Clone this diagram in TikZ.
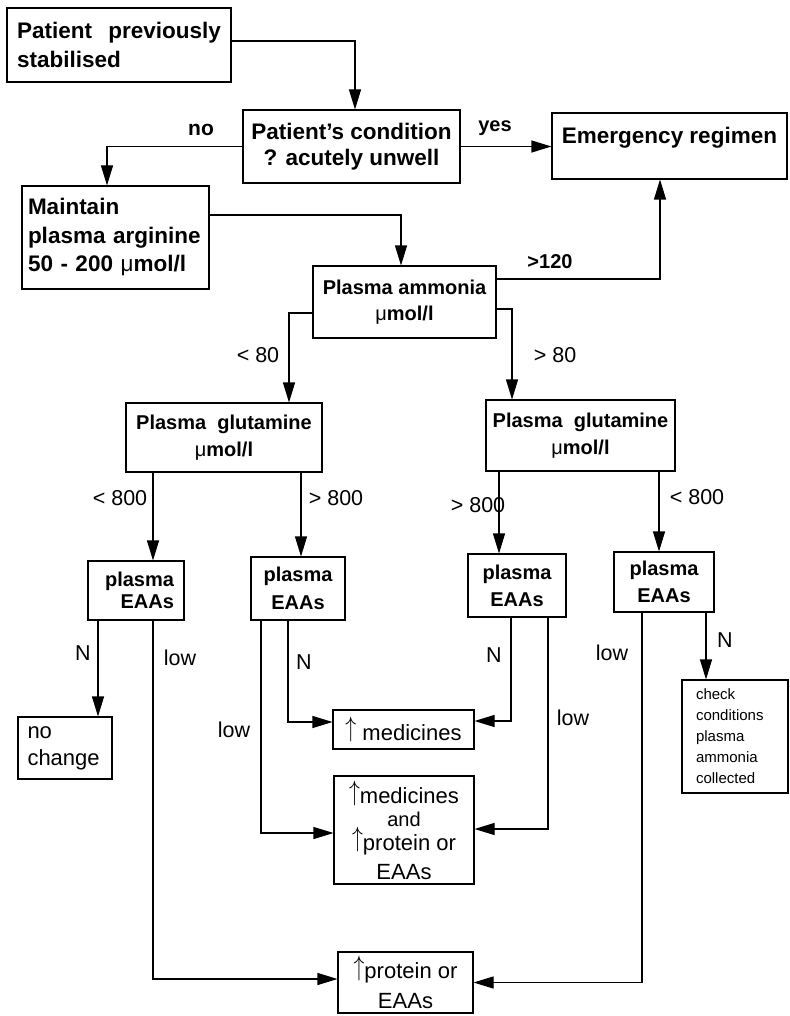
\documentclass[tikz,border=0pt]{standalone}
\usepackage{fontspec}
\usepackage{graphicx}
\setmainfont{Liberation Sans}
\usetikzlibrary{arrows.meta}
\newcommand{\mumol}{{\mdseries μ}mol/l}
\newcommand{\uparr}{\raisebox{0.16em}{\scalebox{1.05}[1.35]{$\uparrow$}}}
\begin{document}
\begin{tikzpicture}[x=1pt,y=-1pt,
  box/.style={draw, line width=1.1pt, inner sep=0pt, align=center},
  bigbf/.style={font=\fontsize{22.5}{29}\selectfont\bfseries},
  midbf/.style={font=\fontsize{20}{27}\selectfont\bfseries},
  rg/.style={font=\fontsize{22}{28}\selectfont},
  lab/.style={font=\fontsize{21.5}{25}\selectfont, inner sep=0pt},
  labbf/.style={font=\fontsize{20}{25}\selectfont\bfseries, inner sep=0pt},
  conn/.style={line width=1.1pt, -{Triangle[length=20pt,width=12pt]}}]
\useasboundingbox (0,0) rectangle (789,1016);
\fill[white] (0,0) rectangle (789,1016);

% boxes
\node[box, bigbf, minimum width=224pt, minimum height=74pt, text width=204pt, align=left] (b1) at (119,45) {Patient\hfill previously\\stabilised};
\node[box, bigbf, minimum width=217pt, minimum height=73pt, font=\fontsize{22.5}{26}\selectfont\bfseries] (b2) at (351.5,146.5) {Patient’s condition\\? acutely unwell};
\node[box, bigbf, minimum width=235pt, minimum height=66pt, text height=16pt, text depth=20pt] (em) at (669.5,146) {Emergency regimen};
\node[box, bigbf, minimum width=187pt, minimum height=103pt, text width=175pt, align=left, font=\fontsize{22.5}{28.5}\selectfont\bfseries] (maint) at (115.5,237.5) {Maintain\\plasma arginine\\50 - 200 \mumol};
\node[box, midbf, minimum width=183pt, minimum height=72pt, font=\fontsize{20}{26}\selectfont\bfseries] (amm) at (404.5,302) {Plasma ammonia\\\mumol};
\node[box, midbf, minimum width=196pt, minimum height=69pt] (gL) at (224,437.5) {Plasma\ \ glutamine\\\mumol};
\node[box, midbf, minimum width=189pt, minimum height=71pt] (gR) at (580.5,435.5) {Plasma\ \ glutamine\\\mumol};
\node[box, midbf, minimum width=96pt, minimum height=59pt, text width=76pt, align=right, font=\fontsize{20}{22}\selectfont\bfseries] (e1) at (136,590.5) {plasma\\EAAs};
\node[box, midbf, minimum width=94pt, minimum height=63pt, font=\fontsize{20}{28}\selectfont\bfseries] (e2) at (298,588.5) {plasma\\EAAs};
\node[box, midbf, minimum width=98pt, minimum height=63pt] (e3) at (517,585.5) {plasma\\EAAs};
\node[box, midbf, minimum width=100pt, minimum height=60pt] (e4) at (664,582) {plasma\\EAAs};
\node[box, rg, minimum width=94pt, minimum height=62pt, text width=75pt, align=left, font=\fontsize{22}{27}\selectfont] (nc) at (65,748) {no\\change};
\node[box, rg, minimum width=141pt, minimum height=39pt] (med) at (403.5,729.5) {\uparr\ medicines};
\node[box, rg, minimum width=140pt, minimum height=108pt, font=\fontsize{22}{22.5}\selectfont] (big) at (404,830) {\uparr medicines\\{\fontsize{20}{22.5}\selectfont and}\\\uparr protein or\\[6.5pt]EAAs};
\node[box, rg, minimum width=135pt, minimum height=61pt, font=\fontsize{22}{30}\selectfont] (prot) at (405.5,982.5) {\uparr protein or\\EAAs};
\node[box, minimum width=106pt, minimum height=113pt, text width=78pt, align=left, font=\fontsize{15}{21}\selectfont] (chk) at (735,736.5) {check\\conditions\\plasma\\ammonia\\collected};

% connectors
\draw[conn] ([yshift=4pt]b1.east) -| ([xshift=3.5pt]b2.north);
\draw[conn] (b2.east) -- (b2.east -| em.west);
\draw[conn] (b2.west) -| ([xshift=-8.5pt]maint.north);
\draw[conn] ([yshift=22.5pt]maint.east) -| ([xshift=-3.5pt]amm.north);
\draw[conn] ([yshift=23pt]amm.east) -| ([xshift=-9.5pt]em.south);
\draw[conn] ([yshift=-11pt]amm.west) -| ([xshift=65pt]gL.north);
\draw[conn] ([yshift=-7pt]amm.east) -| ([xshift=-68.5pt]gR.north);
\draw[conn] ([xshift=17pt]e1.north |- gL.south) -- ([xshift=17pt]e1.north);
\draw[conn] ([xshift=3pt]e2.north |- gL.south) -- ([xshift=3pt]e2.north);
\draw[conn] ([xshift=-18pt]e3.north |- gR.south) -- ([xshift=-18pt]e3.north);
\draw[conn] ([xshift=-5pt]e4.north |- gR.south) -- ([xshift=-5pt]e4.north);
\draw[conn] ([xshift=33pt]nc.north |- e1.south) -- ([xshift=33pt]nc.north);
\draw[conn] ([xshift=17pt]e1.south) |- ([yshift=3.5pt]prot.west);
\draw[conn] ([xshift=-10pt]e2.south) |- ([yshift=7.5pt]med.west);
\draw[conn] ([xshift=-37pt]e2.south) |- ([yshift=-3pt]big.west);
\draw[conn] ([xshift=-6pt]e3.south) |- ([yshift=8.5pt]med.east);
\draw[conn] ([xshift=31pt]e3.south) |- ([yshift=1pt]big.east);
\draw[conn] ([xshift=-22pt]e4.south) |- (prot.east);
\draw[conn] ([xshift=-29pt]chk.north |- e4.south) -- ([xshift=-29pt]chk.north);

% labels
\node[labbf, font=\fontsize{21}{25}\selectfont\bfseries] (lno) at (201,130) {no};
\node[labbf] (lyes) at (495,128) {yes};
\node[labbf] (l120) at (550,262) {>120};
\node[lab] (l80a) at (258,355) {< 80};
\node[lab] (l80b) at (555,355) {> 80};
\node[lab] (l800a) at (120,498) {< 800};
\node[lab] (l800b) at (336,498) {> 800};
\node[lab] (l800c) at (478,505) {> 800};
\node[lab] (l800d) at (697,497) {< 800};
\node[lab] (n1) at (83,653) {N};
\node[lab] (low1) at (180,658) {low};
\node[lab] (low2) at (234,730) {low};
\node[lab] (n2) at (304,662) {N};
\node[lab] (n3) at (494,655) {N};
\node[lab] (low3) at (573,718) {low};
\node[lab] (low4) at (612,653) {low};
\node[lab] (n4) at (725,640) {N};
\end{tikzpicture}
\end{document}
